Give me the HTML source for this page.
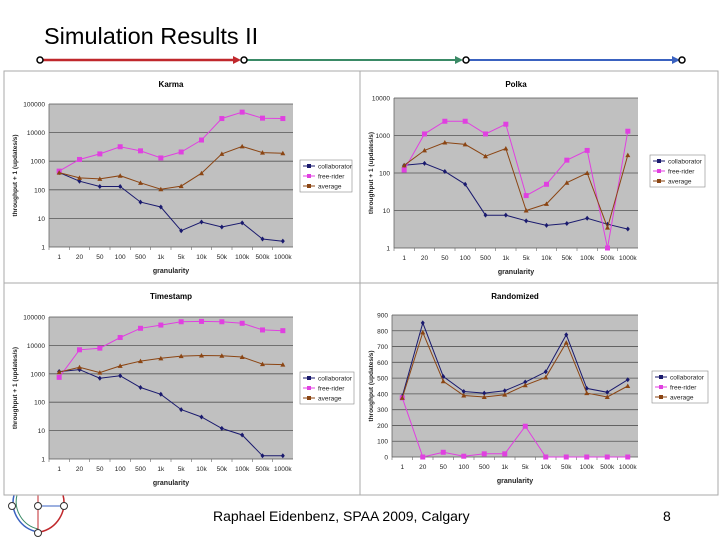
<!DOCTYPE html>
<html><head><meta charset="utf-8">
<style>
body{margin:0;background:#fff;}
#root{position:relative;width:720px;height:540px;overflow:hidden;font-family:"Liberation Sans",sans-serif;}
svg text{font-family:"Liberation Sans",sans-serif;}
</style></head>
<body>
<div id="root">
<svg id="s" width="720" height="540" viewBox="0 0 720 540">
  <text x="44" y="44" font-size="23.5" fill="#000">Simulation Results II</text>
  <g>
    <line x1="40" y1="60" x2="238" y2="60" stroke="#c0282c" stroke-width="2.5"/>
    <polygon points="233,56 241,60 233,64" fill="#c0282c"/>
    <line x1="246" y1="60" x2="460" y2="60" stroke="#3a8a66" stroke-width="2"/>
    <polygon points="455,56 463,60 455,64" fill="#3a8a66"/>
    <line x1="468" y1="60" x2="677" y2="60" stroke="#3a62c0" stroke-width="2"/>
    <polygon points="672,56 680,60 672,64" fill="#3a62c0"/>
    <circle cx="40" cy="60" r="3" fill="#fff" stroke="#000" stroke-width="1.5"/>
    <circle cx="244" cy="60" r="3" fill="#fff" stroke="#000" stroke-width="1.5"/>
    <circle cx="466" cy="60" r="3" fill="#fff" stroke="#000" stroke-width="1.5"/>
    <circle cx="682" cy="60" r="3" fill="#fff" stroke="#000" stroke-width="1.5"/>
  </g>
  <g fill="none">
    <path d="M14,495 A30,30 0 0 0 38,532" stroke="#3a62c0" stroke-width="1.5"/>
    <path d="M17,495 A28,28 0 0 0 38,529" stroke="#3a8a66" stroke-width="1"/>
    <path d="M63,495 A30,30 0 0 1 40,532" stroke="#c0282c" stroke-width="1.5"/>
    <line x1="38" y1="495" x2="38" y2="532" stroke="#c0282c"/>
    <line x1="42" y1="506" x2="63" y2="506" stroke="#3a62c0"/>
    <circle cx="12" cy="506" r="3.5" fill="#fff" stroke="#333"/>
    <circle cx="38" cy="506" r="3.5" fill="#fff" stroke="#333"/>
    <circle cx="64" cy="506" r="3.5" fill="#fff" stroke="#333"/>
    <circle cx="38" cy="533" r="3.5" fill="#fff" stroke="#333"/>
  </g>
  <text x="213" y="521" font-size="14" fill="#000">Raphael Eidenbenz,  SPAA 2009, Calgary</text>
  <text x="663" y="521" font-size="14" fill="#000">8</text>
</svg>
</div>
<script>
const categories=["1","20","50","100","500","1k","5k","10k","50k","100k","500k","1000k"];
const karmaCollab=[400,200,130,130,37,25,3.7,7.5,5,7,1.9,1.6];
const karmaFree=[450,1150,1800,3200,2300,1300,2100,5500,31000,52000,32000,31000];
const karmaAvg=[400,260,240,310,175,105,135,380,1800,3300,2000,1900];
const polkaCollab=[160,180,110,50,7.5,7.5,5.3,4,4.5,6.2,4.3,3.2];
const polkaFree=[120,1100,2400,2400,1100,2000,25,50,220,400,1,1300];
const polkaAvg=[160,400,650,580,280,450,10,15,55,100,3.5,300];
const tsCollab=[1200,1400,700,850,330,190,55,30,12,7,1.3,1.3];
const tsFree=[750,7000,8000,19000,40000,52000,68000,70000,68000,60000,35000,33000];
const tsAvg=[1150,1700,1100,1900,2800,3500,4200,4400,4300,3900,2200,2100];
const rndCollab=[385,850,510,415,405,420,475,540,775,435,410,490];
const rndFree=[375,0,30,5,20,20,195,0,0,0,0,0];
const rndAvg=[375,790,480,390,380,395,455,505,725,405,380,450];
const logTicks5=[1,10,100,1000,10000,100000];
const logTicks4=[1,10,100,1000,10000];
const linTicks=[0,100,200,300,400,500,600,700,800,900];

const NS="http://www.w3.org/2000/svg";
const svg=document.getElementById('s');
function mk(tag,attrs,parent){const e=document.createElementNS(NS,tag);for(const k in attrs)e.setAttribute(k,attrs[k]);(parent||svg).appendChild(e);return e;}

function chart(o){
  const g=mk('g',{});
  
  
  const panel=mk('rect',{x:o.px,y:o.py,width:o.pw,height:o.ph,fill:'#fff',stroke:'#aaa','stroke-width':1},g);
  
  
  const t=mk('text',{x:o.x0+(o.x1-o.x0)/2,y:o.py+16,'font-size':8,'font-weight':'bold','text-anchor':'middle',fill:'#000'},g);
  t.textContent=o.title;
  
  
  const plot=mk('rect',{x:o.x0,y:o.y0,width:o.x1-o.x0,height:o.y1-o.y0,fill:'#c0c0c0'},g);
  
  
  const yv=o.log?(v=>{const lo=Math.log10(o.min),hi=Math.log10(o.max);return o.y1-(Math.log10(Math.max(v,o.min))-lo)/(hi-lo)*(o.y1-o.y0);}):(v=>o.y1-(v-o.min)/(o.max-o.min)*(o.y1-o.y0));
  const bw=(o.x1-o.x0)/categories.length;
  const xv=i=>o.x0+bw*(i+0.5);
  o.ticks.forEach(tv=>{
    const y=yv(tv);
    const gl=mk('line',{x1:o.x0,x2:o.x1,y1:y,y2:y,stroke:'#555','stroke-width':0.8},g);
    
    
    const tl=mk('text',{x:o.x0-4,y:y+2.5,'font-size':6.5,'text-anchor':'end',fill:'#222'},g);
    tl.textContent=String(tv);
    
    
  });
  mk('line',{x1:o.x0,x2:o.x0,y1:o.y0,y2:o.y1,stroke:'#666','stroke-width':0.8},g);
  categories.forEach((c,i)=>{
    mk('line',{x1:o.x0+bw*i,x2:o.x0+bw*i,y1:o.y1,y2:o.y1+3,stroke:'#666','stroke-width':0.6},g);
    const xl=mk('text',{x:xv(i),y:o.y1+12,'font-size':6.5,'text-anchor':'middle',fill:'#222'},g);
    xl.textContent=c;
    
    
  });
  const xt=mk('text',{x:o.x0+(o.x1-o.x0)/2,y:o.y1+26,'font-size':7,'font-weight':'bold','text-anchor':'middle',fill:'#222'},g);
  xt.textContent='granularity';
  
  
  const ym=(o.y0+o.y1)/2, yx=o.px+13;
  const yt=mk('text',{x:yx,y:ym,'font-size':6.5,'font-weight':'bold','text-anchor':'middle',fill:'#222',transform:`rotate(-90 ${yx} ${ym})`},g);
  yt.textContent=o.ytitle;
  
  
  const series=[{d:o.collab,c:'#1a1a6e',n:'collaborator',m:'d'},{d:o.free,c:'#e040e0',n:'free-rider',m:'s'},{d:o.avg,c:'#8b4513',n:'average',m:'t'}];
  series.forEach(s=>{
    const pts=s.d.map((v,i)=>xv(i).toFixed(1)+','+yv(v).toFixed(1)).join(' ');
    const pl=mk('polyline',{points:pts,fill:'none',stroke:s.c,'stroke-width':1},g);
    
    
    s.d.forEach((v,i)=>{
      const x=xv(i),y=yv(v);let m;
      if(s.m==='s')m=mk('rect',{x:x-2.5,y:y-2.5,width:5,height:5,fill:s.c},g);
      else if(s.m==='d')m=mk('polygon',{points:`${x},${y-2.5} ${x+2},${y} ${x},${y+2.5} ${x-2},${y}`,fill:s.c},g);
      else m=mk('polygon',{points:`${x},${y-2.5} ${x+2.5},${y+2} ${x-2.5},${y+2}`,fill:s.c},g);
      
      
    });
  });
  const lg=mk('g',{},g);
  
  
  mk('rect',{x:o.lx,y:o.ly,width:o.lw,height:32,fill:'#fff',stroke:'#888','stroke-width':0.6},lg);
  series.forEach((s,k)=>{
    const y=o.ly+6+k*10;
    mk('line',{x1:o.lx+3,x2:o.lx+15,y1:y,y2:y,stroke:s.c,'stroke-width':1},lg);
    mk('rect',{x:o.lx+7,y:y-2,width:4,height:4,fill:s.c},lg);
    const lt=mk('text',{x:o.lx+18,y:y+2.5,'font-size':6.5,fill:'#222'},lg);
    lt.textContent=s.n;
    
    
  });
}
chart({name:'karma',title:'Karma',px:4,py:71,pw:356,ph:212,x0:49,x1:293,y0:104,y1:247,log:true,min:1,max:100000,ticks:logTicks5,collab:karmaCollab,free:karmaFree,avg:karmaAvg,lx:300,ly:160,lw:52,ytitle:'throughput + 1 (updates/s)'});
chart({name:'polka',title:'Polka',px:360,py:71,pw:358,ph:212,x0:394,x1:638,y0:98,y1:248,log:true,min:1,max:10000,ticks:logTicks4,collab:polkaCollab,free:polkaFree,avg:polkaAvg,lx:650,ly:155,lw:55,ytitle:'throughput + 1 (updates/s)'});
chart({name:'timestamp',title:'Timestamp',px:4,py:283,pw:356,ph:212,x0:49,x1:293,y0:317,y1:459,log:true,min:1,max:100000,ticks:logTicks5,collab:tsCollab,free:tsFree,avg:tsAvg,lx:300,ly:372,lw:54,ytitle:'throughput + 1 (updates/s)'});
chart({name:'randomized',title:'Randomized',px:360,py:283,pw:358,ph:212,x0:392,x1:638,y0:315,y1:457,log:false,min:0,max:900,ticks:linTicks,collab:rndCollab,free:rndFree,avg:rndAvg,lx:652,ly:371,lw:56,ytitle:'throughput (updates/s)'});
</script>
</body></html>
